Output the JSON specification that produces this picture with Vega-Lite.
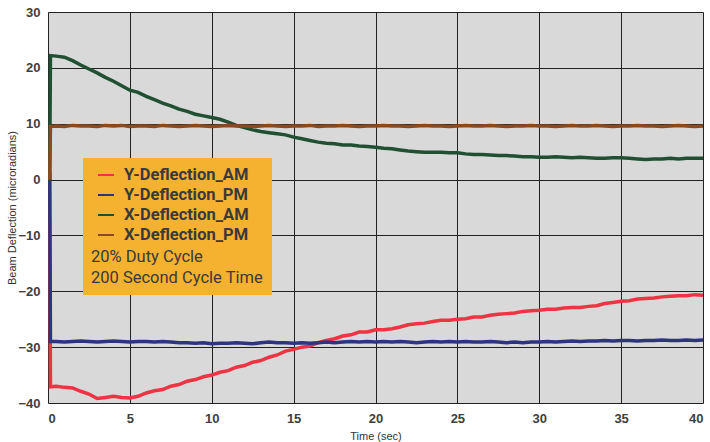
{
"$schema": "https://vega.github.io/schema/vega-lite/v6.json",
"width": 655, "height": 391,
"autosize": {"type": "none"},
"padding": {"left": 48, "top": 12, "right": 7, "bottom": 39},
"background": "white",
"config": {
  "view": {"fill": "#d9d9d9", "stroke": null},
  "axis": {"domain": false, "ticks": false, "grid": true, "gridColor": "#222222", "gridWidth": 1, "gridOpacity": 1,
    "labelFont": "Liberation Sans Narrow, Liberation Sans", "labelFontSize": 13, "labelFontWeight": "bold", "labelColor": "#404040",
    "titleFont": "Liberation Sans", "titleFontSize": 11, "titleFontWeight": "normal", "titleColor": "#333333"}
},
"data": {"values": [
{"t":0,"s":"Y-Deflection_AM","v":0.6},{"t":0.1,"s":"Y-Deflection_AM","v":0.6},{"t":0.15,"s":"Y-Deflection_AM","v":-37.1},
{"t":0.5,"s":"Y-Deflection_AM","v":-37.0},{"t":1,"s":"Y-Deflection_AM","v":-37.2},{"t":1.5,"s":"Y-Deflection_AM","v":-37.3},{"t":2,"s":"Y-Deflection_AM","v":-37.9},{"t":2.5,"s":"Y-Deflection_AM","v":-38.4},{"t":3,"s":"Y-Deflection_AM","v":-39.2},{"t":3.5,"s":"Y-Deflection_AM","v":-39.0},{"t":4,"s":"Y-Deflection_AM","v":-38.8},{"t":4.5,"s":"Y-Deflection_AM","v":-39.0},{"t":5,"s":"Y-Deflection_AM","v":-39.1},
{"t":5.5,"s":"Y-Deflection_AM","v":-38.8},{"t":6,"s":"Y-Deflection_AM","v":-38.2},{"t":6.5,"s":"Y-Deflection_AM","v":-37.8},{"t":7,"s":"Y-Deflection_AM","v":-37.6},{"t":7.5,"s":"Y-Deflection_AM","v":-37.0},{"t":8,"s":"Y-Deflection_AM","v":-36.7},{"t":8.5,"s":"Y-Deflection_AM","v":-36.1},{"t":9,"s":"Y-Deflection_AM","v":-35.8},{"t":9.5,"s":"Y-Deflection_AM","v":-35.3},{"t":10,"s":"Y-Deflection_AM","v":-35.0},
{"t":10.5,"s":"Y-Deflection_AM","v":-34.5},{"t":11,"s":"Y-Deflection_AM","v":-34.2},{"t":11.5,"s":"Y-Deflection_AM","v":-33.6},{"t":12,"s":"Y-Deflection_AM","v":-33.3},{"t":12.5,"s":"Y-Deflection_AM","v":-32.7},{"t":13,"s":"Y-Deflection_AM","v":-32.4},{"t":13.5,"s":"Y-Deflection_AM","v":-31.8},{"t":14,"s":"Y-Deflection_AM","v":-31.4},{"t":14.5,"s":"Y-Deflection_AM","v":-30.7},{"t":15,"s":"Y-Deflection_AM","v":-30.4},
{"t":15.5,"s":"Y-Deflection_AM","v":-30.0},{"t":16,"s":"Y-Deflection_AM","v":-29.8},{"t":16.5,"s":"Y-Deflection_AM","v":-29.2},{"t":17,"s":"Y-Deflection_AM","v":-28.8},{"t":17.5,"s":"Y-Deflection_AM","v":-28.5},{"t":18,"s":"Y-Deflection_AM","v":-28.0},{"t":18.5,"s":"Y-Deflection_AM","v":-27.8},{"t":19,"s":"Y-Deflection_AM","v":-27.3},{"t":19.5,"s":"Y-Deflection_AM","v":-27.3},{"t":20,"s":"Y-Deflection_AM","v":-26.9},
{"t":20.5,"s":"Y-Deflection_AM","v":-26.9},{"t":21,"s":"Y-Deflection_AM","v":-26.7},{"t":21.5,"s":"Y-Deflection_AM","v":-26.4},{"t":22,"s":"Y-Deflection_AM","v":-26.0},{"t":22.5,"s":"Y-Deflection_AM","v":-25.8},{"t":23,"s":"Y-Deflection_AM","v":-25.7},{"t":23.5,"s":"Y-Deflection_AM","v":-25.4},{"t":24,"s":"Y-Deflection_AM","v":-25.2},{"t":24.5,"s":"Y-Deflection_AM","v":-25.2},{"t":25,"s":"Y-Deflection_AM","v":-25.0},
{"t":25.5,"s":"Y-Deflection_AM","v":-24.9},{"t":26,"s":"Y-Deflection_AM","v":-24.6},{"t":26.5,"s":"Y-Deflection_AM","v":-24.6},{"t":27,"s":"Y-Deflection_AM","v":-24.3},{"t":27.5,"s":"Y-Deflection_AM","v":-24.1},{"t":28,"s":"Y-Deflection_AM","v":-24.0},{"t":28.5,"s":"Y-Deflection_AM","v":-23.9},{"t":29,"s":"Y-Deflection_AM","v":-23.6},{"t":29.5,"s":"Y-Deflection_AM","v":-23.5},{"t":30,"s":"Y-Deflection_AM","v":-23.4},
{"t":30.5,"s":"Y-Deflection_AM","v":-23.2},{"t":31,"s":"Y-Deflection_AM","v":-23.2},{"t":31.5,"s":"Y-Deflection_AM","v":-23.0},{"t":32,"s":"Y-Deflection_AM","v":-22.9},{"t":32.5,"s":"Y-Deflection_AM","v":-22.9},{"t":33,"s":"Y-Deflection_AM","v":-22.7},{"t":33.5,"s":"Y-Deflection_AM","v":-22.6},{"t":34,"s":"Y-Deflection_AM","v":-22.2},{"t":34.5,"s":"Y-Deflection_AM","v":-22.0},{"t":35,"s":"Y-Deflection_AM","v":-21.8},
{"t":35.5,"s":"Y-Deflection_AM","v":-21.7},{"t":36,"s":"Y-Deflection_AM","v":-21.4},{"t":36.5,"s":"Y-Deflection_AM","v":-21.3},{"t":37,"s":"Y-Deflection_AM","v":-21.2},{"t":37.5,"s":"Y-Deflection_AM","v":-21.0},{"t":38,"s":"Y-Deflection_AM","v":-20.9},{"t":38.5,"s":"Y-Deflection_AM","v":-20.8},{"t":39,"s":"Y-Deflection_AM","v":-20.8},{"t":39.5,"s":"Y-Deflection_AM","v":-20.6},{"t":40,"s":"Y-Deflection_AM","v":-20.7},

{"t":0,"s":"Y-Deflection_PM","v":1.1},{"t":0.1,"s":"Y-Deflection_PM","v":1.1},{"t":0.15,"s":"Y-Deflection_PM","v":-29.0},
{"t":0.5,"s":"Y-Deflection_PM","v":-29.0},{"t":1,"s":"Y-Deflection_PM","v":-29.1},{"t":1.5,"s":"Y-Deflection_PM","v":-29.0},{"t":2,"s":"Y-Deflection_PM","v":-28.9},{"t":2.5,"s":"Y-Deflection_PM","v":-29.0},{"t":3,"s":"Y-Deflection_PM","v":-29.1},{"t":3.5,"s":"Y-Deflection_PM","v":-29.0},{"t":4,"s":"Y-Deflection_PM","v":-28.9},{"t":4.5,"s":"Y-Deflection_PM","v":-29.0},{"t":5,"s":"Y-Deflection_PM","v":-29.1},
{"t":5.5,"s":"Y-Deflection_PM","v":-29.0},{"t":6,"s":"Y-Deflection_PM","v":-29.0},{"t":6.5,"s":"Y-Deflection_PM","v":-29.1},{"t":7,"s":"Y-Deflection_PM","v":-29.0},{"t":7.5,"s":"Y-Deflection_PM","v":-29.1},{"t":8,"s":"Y-Deflection_PM","v":-29.2},{"t":8.5,"s":"Y-Deflection_PM","v":-29.2},{"t":9,"s":"Y-Deflection_PM","v":-29.3},{"t":9.5,"s":"Y-Deflection_PM","v":-29.2},{"t":10,"s":"Y-Deflection_PM","v":-29.4},
{"t":10.5,"s":"Y-Deflection_PM","v":-29.3},{"t":11,"s":"Y-Deflection_PM","v":-29.3},{"t":11.5,"s":"Y-Deflection_PM","v":-29.2},{"t":12,"s":"Y-Deflection_PM","v":-29.3},{"t":12.5,"s":"Y-Deflection_PM","v":-29.4},{"t":13,"s":"Y-Deflection_PM","v":-29.2},{"t":13.5,"s":"Y-Deflection_PM","v":-29.1},{"t":14,"s":"Y-Deflection_PM","v":-29.2},{"t":14.5,"s":"Y-Deflection_PM","v":-29.2},{"t":15,"s":"Y-Deflection_PM","v":-29.3},
{"t":15.5,"s":"Y-Deflection_PM","v":-29.2},{"t":16,"s":"Y-Deflection_PM","v":-29.3},{"t":16.5,"s":"Y-Deflection_PM","v":-29.2},{"t":17,"s":"Y-Deflection_PM","v":-29.1},{"t":17.5,"s":"Y-Deflection_PM","v":-29.2},{"t":18,"s":"Y-Deflection_PM","v":-29.1},{"t":18.5,"s":"Y-Deflection_PM","v":-29.0},{"t":19,"s":"Y-Deflection_PM","v":-29.1},{"t":19.5,"s":"Y-Deflection_PM","v":-29.0},{"t":20,"s":"Y-Deflection_PM","v":-29.1},
{"t":20.5,"s":"Y-Deflection_PM","v":-29.0},{"t":21,"s":"Y-Deflection_PM","v":-29.1},{"t":21.5,"s":"Y-Deflection_PM","v":-29.0},{"t":22,"s":"Y-Deflection_PM","v":-29.1},{"t":22.5,"s":"Y-Deflection_PM","v":-29.2},{"t":23,"s":"Y-Deflection_PM","v":-29.1},{"t":23.5,"s":"Y-Deflection_PM","v":-29.0},{"t":24,"s":"Y-Deflection_PM","v":-29.1},{"t":24.5,"s":"Y-Deflection_PM","v":-29.0},{"t":25,"s":"Y-Deflection_PM","v":-29.1},
{"t":25.5,"s":"Y-Deflection_PM","v":-29.0},{"t":26,"s":"Y-Deflection_PM","v":-29.1},{"t":26.5,"s":"Y-Deflection_PM","v":-29.1},{"t":27,"s":"Y-Deflection_PM","v":-29.0},{"t":27.5,"s":"Y-Deflection_PM","v":-29.1},{"t":28,"s":"Y-Deflection_PM","v":-29.2},{"t":28.5,"s":"Y-Deflection_PM","v":-29.1},{"t":29,"s":"Y-Deflection_PM","v":-29.2},{"t":29.5,"s":"Y-Deflection_PM","v":-29.1},{"t":30,"s":"Y-Deflection_PM","v":-29.1},
{"t":30.5,"s":"Y-Deflection_PM","v":-29.0},{"t":31,"s":"Y-Deflection_PM","v":-29.1},{"t":31.5,"s":"Y-Deflection_PM","v":-29.0},{"t":32,"s":"Y-Deflection_PM","v":-28.9},{"t":32.5,"s":"Y-Deflection_PM","v":-29.0},{"t":33,"s":"Y-Deflection_PM","v":-28.9},{"t":33.5,"s":"Y-Deflection_PM","v":-28.9},{"t":34,"s":"Y-Deflection_PM","v":-28.8},{"t":34.5,"s":"Y-Deflection_PM","v":-28.9},{"t":35,"s":"Y-Deflection_PM","v":-28.8},
{"t":35.5,"s":"Y-Deflection_PM","v":-28.8},{"t":36,"s":"Y-Deflection_PM","v":-28.9},{"t":36.5,"s":"Y-Deflection_PM","v":-28.8},{"t":37,"s":"Y-Deflection_PM","v":-28.8},{"t":37.5,"s":"Y-Deflection_PM","v":-28.7},{"t":38,"s":"Y-Deflection_PM","v":-28.8},{"t":38.5,"s":"Y-Deflection_PM","v":-28.8},{"t":39,"s":"Y-Deflection_PM","v":-28.7},{"t":39.5,"s":"Y-Deflection_PM","v":-28.8},{"t":40,"s":"Y-Deflection_PM","v":-28.7},

{"t":0,"s":"X-Deflection_AM","v":0.0},{"t":0.1,"s":"X-Deflection_AM","v":0.0},{"t":0.15,"s":"X-Deflection_AM","v":22.2},
{"t":0.5,"s":"X-Deflection_AM","v":22.1},{"t":1,"s":"X-Deflection_AM","v":21.9},{"t":1.5,"s":"X-Deflection_AM","v":21.3},{"t":2,"s":"X-Deflection_AM","v":20.5},{"t":2.5,"s":"X-Deflection_AM","v":19.8},{"t":3,"s":"X-Deflection_AM","v":19.1},{"t":3.5,"s":"X-Deflection_AM","v":18.3},{"t":4,"s":"X-Deflection_AM","v":17.6},{"t":4.5,"s":"X-Deflection_AM","v":16.8},{"t":5,"s":"X-Deflection_AM","v":16.0},
{"t":5.5,"s":"X-Deflection_AM","v":15.6},{"t":6,"s":"X-Deflection_AM","v":14.9},{"t":6.5,"s":"X-Deflection_AM","v":14.3},{"t":7,"s":"X-Deflection_AM","v":13.7},{"t":7.5,"s":"X-Deflection_AM","v":13.2},{"t":8,"s":"X-Deflection_AM","v":12.6},{"t":8.5,"s":"X-Deflection_AM","v":12.2},{"t":9,"s":"X-Deflection_AM","v":11.7},{"t":9.5,"s":"X-Deflection_AM","v":11.4},{"t":10,"s":"X-Deflection_AM","v":11.1},
{"t":10.5,"s":"X-Deflection_AM","v":10.8},{"t":11,"s":"X-Deflection_AM","v":10.3},{"t":11.5,"s":"X-Deflection_AM","v":9.7},{"t":12,"s":"X-Deflection_AM","v":9.3},{"t":12.5,"s":"X-Deflection_AM","v":8.9},{"t":13,"s":"X-Deflection_AM","v":8.6},{"t":13.5,"s":"X-Deflection_AM","v":8.4},{"t":14,"s":"X-Deflection_AM","v":8.2},{"t":14.5,"s":"X-Deflection_AM","v":8.0},{"t":15,"s":"X-Deflection_AM","v":7.6},
{"t":15.5,"s":"X-Deflection_AM","v":7.3},{"t":16,"s":"X-Deflection_AM","v":7.0},{"t":16.5,"s":"X-Deflection_AM","v":6.7},{"t":17,"s":"X-Deflection_AM","v":6.5},{"t":17.5,"s":"X-Deflection_AM","v":6.4},{"t":18,"s":"X-Deflection_AM","v":6.2},{"t":18.5,"s":"X-Deflection_AM","v":6.2},{"t":19,"s":"X-Deflection_AM","v":6.0},{"t":19.5,"s":"X-Deflection_AM","v":5.9},{"t":20,"s":"X-Deflection_AM","v":5.8},
{"t":20.5,"s":"X-Deflection_AM","v":5.6},{"t":21,"s":"X-Deflection_AM","v":5.5},{"t":21.5,"s":"X-Deflection_AM","v":5.3},{"t":22,"s":"X-Deflection_AM","v":5.1},{"t":22.5,"s":"X-Deflection_AM","v":5.0},{"t":23,"s":"X-Deflection_AM","v":4.9},{"t":23.5,"s":"X-Deflection_AM","v":4.9},{"t":24,"s":"X-Deflection_AM","v":4.9},{"t":24.5,"s":"X-Deflection_AM","v":4.8},{"t":25,"s":"X-Deflection_AM","v":4.8},
{"t":25.5,"s":"X-Deflection_AM","v":4.6},{"t":26,"s":"X-Deflection_AM","v":4.5},{"t":26.5,"s":"X-Deflection_AM","v":4.5},{"t":27,"s":"X-Deflection_AM","v":4.4},{"t":27.5,"s":"X-Deflection_AM","v":4.3},{"t":28,"s":"X-Deflection_AM","v":4.3},{"t":28.5,"s":"X-Deflection_AM","v":4.2},{"t":29,"s":"X-Deflection_AM","v":4.1},{"t":29.5,"s":"X-Deflection_AM","v":4.1},{"t":30,"s":"X-Deflection_AM","v":4.0},
{"t":30.5,"s":"X-Deflection_AM","v":4.0},{"t":31,"s":"X-Deflection_AM","v":4.1},{"t":31.5,"s":"X-Deflection_AM","v":4.0},{"t":32,"s":"X-Deflection_AM","v":3.9},{"t":32.5,"s":"X-Deflection_AM","v":4.0},{"t":33,"s":"X-Deflection_AM","v":3.9},{"t":33.5,"s":"X-Deflection_AM","v":3.8},{"t":34,"s":"X-Deflection_AM","v":3.8},{"t":34.5,"s":"X-Deflection_AM","v":3.9},{"t":35,"s":"X-Deflection_AM","v":3.9},
{"t":35.5,"s":"X-Deflection_AM","v":3.8},{"t":36,"s":"X-Deflection_AM","v":3.7},{"t":36.5,"s":"X-Deflection_AM","v":3.6},{"t":37,"s":"X-Deflection_AM","v":3.7},{"t":37.5,"s":"X-Deflection_AM","v":3.7},{"t":38,"s":"X-Deflection_AM","v":3.8},{"t":38.5,"s":"X-Deflection_AM","v":3.7},{"t":39,"s":"X-Deflection_AM","v":3.8},{"t":39.5,"s":"X-Deflection_AM","v":3.8},{"t":40,"s":"X-Deflection_AM","v":3.8},

{"t":0,"s":"X-Deflection_PM","v":0.3},{"t":0.1,"s":"X-Deflection_PM","v":0.3},{"t":0.15,"s":"X-Deflection_PM","v":9.5},
{"t":0.5,"s":"X-Deflection_PM","v":9.6},{"t":1,"s":"X-Deflection_PM","v":9.5},{"t":1.5,"s":"X-Deflection_PM","v":9.7},{"t":2,"s":"X-Deflection_PM","v":9.6},{"t":2.5,"s":"X-Deflection_PM","v":9.6},{"t":3,"s":"X-Deflection_PM","v":9.5},{"t":3.5,"s":"X-Deflection_PM","v":9.7},{"t":4,"s":"X-Deflection_PM","v":9.6},{"t":4.5,"s":"X-Deflection_PM","v":9.7},{"t":5,"s":"X-Deflection_PM","v":9.5},
{"t":5.5,"s":"X-Deflection_PM","v":9.6},{"t":6,"s":"X-Deflection_PM","v":9.6},{"t":6.5,"s":"X-Deflection_PM","v":9.5},{"t":7,"s":"X-Deflection_PM","v":9.7},{"t":7.5,"s":"X-Deflection_PM","v":9.6},{"t":8,"s":"X-Deflection_PM","v":9.5},{"t":8.5,"s":"X-Deflection_PM","v":9.6},{"t":9,"s":"X-Deflection_PM","v":9.7},{"t":9.5,"s":"X-Deflection_PM","v":9.6},{"t":10,"s":"X-Deflection_PM","v":9.5},
{"t":10.5,"s":"X-Deflection_PM","v":9.6},{"t":11,"s":"X-Deflection_PM","v":9.7},{"t":11.5,"s":"X-Deflection_PM","v":9.6},{"t":12,"s":"X-Deflection_PM","v":9.6},{"t":12.5,"s":"X-Deflection_PM","v":9.5},{"t":13,"s":"X-Deflection_PM","v":9.6},{"t":13.5,"s":"X-Deflection_PM","v":9.7},{"t":14,"s":"X-Deflection_PM","v":9.6},{"t":14.5,"s":"X-Deflection_PM","v":9.5},{"t":15,"s":"X-Deflection_PM","v":9.6},
{"t":15.5,"s":"X-Deflection_PM","v":9.6},{"t":16,"s":"X-Deflection_PM","v":9.7},{"t":16.5,"s":"X-Deflection_PM","v":9.5},{"t":17,"s":"X-Deflection_PM","v":9.6},{"t":17.5,"s":"X-Deflection_PM","v":9.6},{"t":18,"s":"X-Deflection_PM","v":9.7},{"t":18.5,"s":"X-Deflection_PM","v":9.6},{"t":19,"s":"X-Deflection_PM","v":9.5},{"t":19.5,"s":"X-Deflection_PM","v":9.6},{"t":20,"s":"X-Deflection_PM","v":9.6},
{"t":20.5,"s":"X-Deflection_PM","v":9.7},{"t":21,"s":"X-Deflection_PM","v":9.6},{"t":21.5,"s":"X-Deflection_PM","v":9.6},{"t":22,"s":"X-Deflection_PM","v":9.5},{"t":22.5,"s":"X-Deflection_PM","v":9.6},{"t":23,"s":"X-Deflection_PM","v":9.7},{"t":23.5,"s":"X-Deflection_PM","v":9.6},{"t":24,"s":"X-Deflection_PM","v":9.6},{"t":24.5,"s":"X-Deflection_PM","v":9.5},{"t":25,"s":"X-Deflection_PM","v":9.6},
{"t":25.5,"s":"X-Deflection_PM","v":9.7},{"t":26,"s":"X-Deflection_PM","v":9.6},{"t":26.5,"s":"X-Deflection_PM","v":9.6},{"t":27,"s":"X-Deflection_PM","v":9.7},{"t":27.5,"s":"X-Deflection_PM","v":9.6},{"t":28,"s":"X-Deflection_PM","v":9.5},{"t":28.5,"s":"X-Deflection_PM","v":9.6},{"t":29,"s":"X-Deflection_PM","v":9.6},{"t":29.5,"s":"X-Deflection_PM","v":9.7},{"t":30,"s":"X-Deflection_PM","v":9.6},
{"t":30.5,"s":"X-Deflection_PM","v":9.6},{"t":31,"s":"X-Deflection_PM","v":9.5},{"t":31.5,"s":"X-Deflection_PM","v":9.6},{"t":32,"s":"X-Deflection_PM","v":9.7},{"t":32.5,"s":"X-Deflection_PM","v":9.6},{"t":33,"s":"X-Deflection_PM","v":9.6},{"t":33.5,"s":"X-Deflection_PM","v":9.7},{"t":34,"s":"X-Deflection_PM","v":9.6},{"t":34.5,"s":"X-Deflection_PM","v":9.5},{"t":35,"s":"X-Deflection_PM","v":9.6},
{"t":35.5,"s":"X-Deflection_PM","v":9.6},{"t":36,"s":"X-Deflection_PM","v":9.7},{"t":36.5,"s":"X-Deflection_PM","v":9.6},{"t":37,"s":"X-Deflection_PM","v":9.6},{"t":37.5,"s":"X-Deflection_PM","v":9.5},{"t":38,"s":"X-Deflection_PM","v":9.6},{"t":38.5,"s":"X-Deflection_PM","v":9.7},{"t":39,"s":"X-Deflection_PM","v":9.6},{"t":39.5,"s":"X-Deflection_PM","v":9.5},{"t":40,"s":"X-Deflection_PM","v":9.6}
]},
"mark": {"type": "line", "strokeWidth": 3.5, "clip": true},
"encoding": {
  "x": {"field": "t", "type": "quantitative", "scale": {"domain": [0, 40], "nice": false},
    "axis": {"values": [0, 5, 10, 15, 20, 25, 30, 35, 40], "title": "Time (sec)", "labelPadding": 9, "titlePadding": 5}},
  "y": {"field": "v", "type": "quantitative", "scale": {"domain": [-40, 30], "nice": false},
    "axis": {"values": [-40, -30, -20, -10, 0, 10, 20, 30], "title": "Beam Deflection (microradians)", "labelPadding": 8, "titlePadding": 0}},
  "color": {"field": "s", "type": "nominal",
    "scale": {"domain": ["Y-Deflection_AM", "Y-Deflection_PM", "X-Deflection_AM", "X-Deflection_PM"],
              "range": ["#ee3342", "#2e347e", "#214f33", "#8a4a1f"]},
    "legend": {"orient": "none", "legendX": 35, "legendY": 146, "fillColor": "#f5b130", "padding": 8,
      "symbolType": "stroke", "symbolSize": 256, "symbolStrokeWidth": 2, "symbolOffset": 6,
      "labelFont": "Roboto", "labelFontSize": 16.5, "labelFontWeight": "bold", "labelColor": "#3a3a3a", "labelOffset": 9,
      "rowPadding": 2,
      "title": ["20% Duty Cycle", "200 Second Cycle Time"], "titleOrient": "bottom", "titleAnchor": "start",
      "titleFont": "Roboto", "titleFontSize": 16.5, "titleFontWeight": "normal", "titleColor": "#3a3a3a",
      "titleLineHeight": 21, "titlePadding": 5, "titleLimit": 400}}
}
}
